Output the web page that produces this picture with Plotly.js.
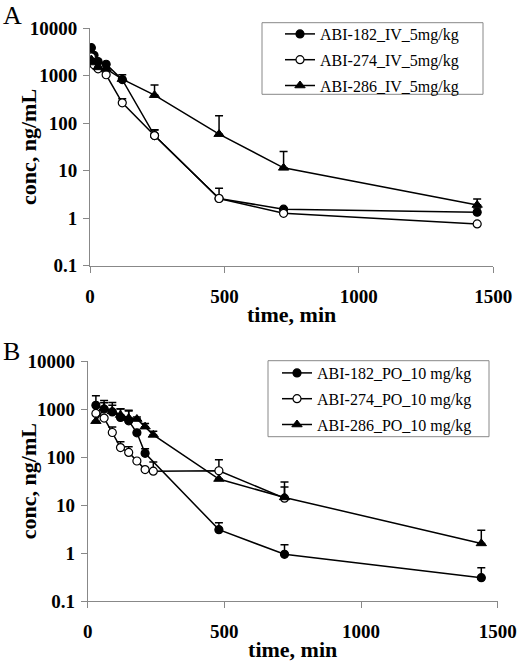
<!DOCTYPE html>
<html>
<head>
<meta charset="utf-8">
<script src="https://cdn.plot.ly/plotly-3.0.1.min.js"></script>
<style>
html,body{margin:0;padding:0;background:#fff;}
#chart{width:517px;height:662px;}
</style>
</head>
<body>
<div id="chart"></div>
<script>
// ---------- Panel A: IV 5 mg/kg ----------
const timeIV = [5, 15, 30, 60, 120, 240, 480, 720, 1440];
const abi182IV = [3900, 2700, 2000, 1750, 830, 55, 2.6, 1.55, 1.34];
const abi182IVerr = [0, 0, 0, 0, 0, 17, 0, 0, 0.3];
const abi274IV = [2500, 1700, 1400, 1050, 270, 55, 2.6, 1.27, 0.76];
const abi274IVerr = [0, 0, 0, 0, 60, 18, 1.7, 0, 0];
const abi286IV = [2200, 1900, 1500, 1400, 850, 390, 59, 11.5, 1.9];
const abi286IVerr = [0, 0, 0, 0, 200, 250, 85, 14, 0.65];

// ---------- Panel B: PO 10 mg/kg ----------
const time182PO = [30, 60, 90, 120, 150, 180, 210, 480, 720, 1440];
const abi182PO = [1200, 1000, 870, 670, 570, 320, 120, 3.1, 0.95, 0.31];
const abi182POerr = [700, 500, 500, 350, 340, 0, 30, 1.2, 0.55, 0.19];
const time274PO = [30, 60, 90, 120, 150, 180, 210, 240, 480, 720];
const abi274PO = [810, 650, 325, 158, 125, 83, 55, 51, 52, 14];
const abi274POerr = [0, 0, 100, 50, 40, 0, 0, 28, 36, 10];
const time286PO = [30, 60, 90, 120, 150, 180, 210, 240, 480, 720, 1440];
const abi286PO = [560, 1050, 900, 750, 650, 620, 430, 290, 35, 14.5, 1.6];
const abi286POerr = [0, 300, 300, 250, 300, 60, 70, 55, 0, 16, 1.4];

const namesA = ['ABI-182_IV_5mg/kg', 'ABI-274_IV_5mg/kg', 'ABI-286_IV_5mg/kg'];
const namesB = ['ABI-182_PO_10 mg/kg', 'ABI-274_PO_10 mg/kg', 'ABI-286_PO_10 mg/kg'];
const xTicks = [0, 500, 1000, 1500];
const yTicks = [0.1, 1, 10, 100, 1000, 10000];
const yTickText = ['0.1', '1', '10', '100', '1000', '10000'];

const serif = 'Liberation Serif, Times New Roman, serif';
const markerStyles = [
  {symbol: 'circle', size: 8, color: '#000', line: {color: '#000', width: 1.2}},
  {symbol: 'circle', size: 8, color: '#fff', line: {color: '#000', width: 1.2}},
  {symbol: 'triangle-up', size: 9, color: '#000', line: {color: '#000', width: 1}}
];

function tr(x, y, err, name, idx, xa, ya, leg) {
  return {
    x: x, y: y, name: name, type: 'scatter', mode: 'lines+markers',
    xaxis: xa, yaxis: ya, legend: leg, legendgroup: leg + idx,
    line: {color: '#000', width: 1.5},
    marker: markerStyles[idx],
    error_y: {type: 'data', symmetric: false, array: err, arrayminus: err.map(() => 0),
              color: '#000', thickness: 1.5, width: 4}
  };
}

const data = [
  tr(timeIV, abi182IV, abi182IVerr, namesA[0], 0, 'x', 'y', 'legend'),
  tr(timeIV, abi274IV, abi274IVerr, namesA[1], 1, 'x', 'y', 'legend'),
  tr(timeIV, abi286IV, abi286IVerr, namesA[2], 2, 'x', 'y', 'legend'),
  tr(time182PO, abi182PO, abi182POerr, namesB[0], 0, 'x2', 'y2', 'legend2'),
  tr(time274PO, abi274PO, abi274POerr, namesB[1], 1, 'x2', 'y2', 'legend2'),
  tr(time286PO, abi286PO, abi286POerr, namesB[2], 2, 'x2', 'y2', 'legend2')
];

const W = 517, H = 662;
function xAxis(d, anchor) {
  return {
    domain: d, anchor: anchor, range: [0, 1500], tickvals: xTicks,
    showgrid: false, zeroline: false, showline: true, linecolor: '#888', linewidth: 1,
    ticks: 'outside', ticklen: 6, tickcolor: '#888', tickwidth: 1,
    ticklabelstandoff: 7,
    tickfont: {family: serif, size: 19, color: '#000', weight: 'bold'},
    title: {text: '<b>time, min</b>', font: {family: serif, size: 22, color: '#000'}, standoff: 1}
  };
}
function yAxis(d, anchor) {
  return {
    domain: d, anchor: anchor, type: 'log', range: [-1, 4],
    tickvals: yTicks, ticktext: yTickText,
    showgrid: false, zeroline: false, showline: true, linecolor: '#888', linewidth: 1,
    ticks: 'outside', ticklen: 6, tickcolor: '#888', tickwidth: 1,
    ticklabelstandoff: 2,
    tickfont: {family: serif, size: 19, color: '#000', weight: 'bold'}
  };
}

const legendBase = {
  xanchor: 'left', yanchor: 'top', bgcolor: 'rgba(0,0,0,0)', borderwidth: 0,
  font: {family: serif, size: 16, color: '#000'}, itemwidth: 30, tracegroupgap: 2
};

const yA = [28.3, 265.7], yB = [361, 601.3];

const layout = {
  width: W, height: H,
  margin: {l: 0, r: 0, t: 0, b: 0},
  paper_bgcolor: '#fff', plot_bgcolor: '#fff',
  showlegend: true,
  xaxis: xAxis([90 / W, 493.3 / W], 'y'),
  yaxis: yAxis([1 - yA[1] / H, 1 - yA[0] / H], 'x'),
  xaxis2: xAxis([87.7 / W, 497.7 / W], 'y2'),
  yaxis2: yAxis([1 - yB[1] / H, 1 - yB[0] / H], 'x2'),
  legend: Object.assign({}, legendBase, {x: 280 / W, y: 1 - 17 / H}),
  legend2: Object.assign({}, legendBase, {x: 277 / W, y: 1 - 356 / H}),
  shapes: [
    {type: 'rect', xref: 'paper', yref: 'paper', x0: 262 / W, x1: 483 / W, y0: 1 - 94.3 / H, y1: 1 - 22.7 / H,
     line: {color: '#888', width: 1}, fillcolor: 'rgba(0,0,0,0)', layer: 'above'},
    {type: 'rect', xref: 'paper', yref: 'paper', x0: 268 / W, x1: 489 / W, y0: 1 - 436.7 / H, y1: 1 - 360.7 / H,
     line: {color: '#888', width: 1}, fillcolor: 'rgba(0,0,0,0)', layer: 'above'}
  ],
  annotations: [
    {text: 'A', xref: 'paper', yref: 'paper', x: 1 / W, y: 1 + 1 / H, xanchor: 'left', yanchor: 'top',
     showarrow: false, font: {family: serif, size: 26, color: '#000'}},
    {text: 'B', xref: 'paper', yref: 'paper', x: 1 / W, y: 1 - 335 / H, xanchor: 'left', yanchor: 'top',
     showarrow: false, font: {family: serif, size: 26, color: '#000'}},
    {text: '<b>conc, ng/mL</b>', xref: 'paper', yref: 'paper', x: 28 / W, y: 1 - (yA[0] + yA[1]) / 2 / H,
     xanchor: 'center', yanchor: 'middle', textangle: -90, showarrow: false,
     font: {family: serif, size: 22, color: '#000'}},
    {text: '<b>conc, ng/mL</b>', xref: 'paper', yref: 'paper', x: 28 / W, y: 1 - (yB[0] + yB[1]) / 2 / H,
     xanchor: 'center', yanchor: 'middle', textangle: -90, showarrow: false,
     font: {family: serif, size: 22, color: '#000'}}
  ]
};

Plotly.newPlot('chart', data, layout, {displayModeBar: false, staticPlot: true});
</script>
</body>
</html>
